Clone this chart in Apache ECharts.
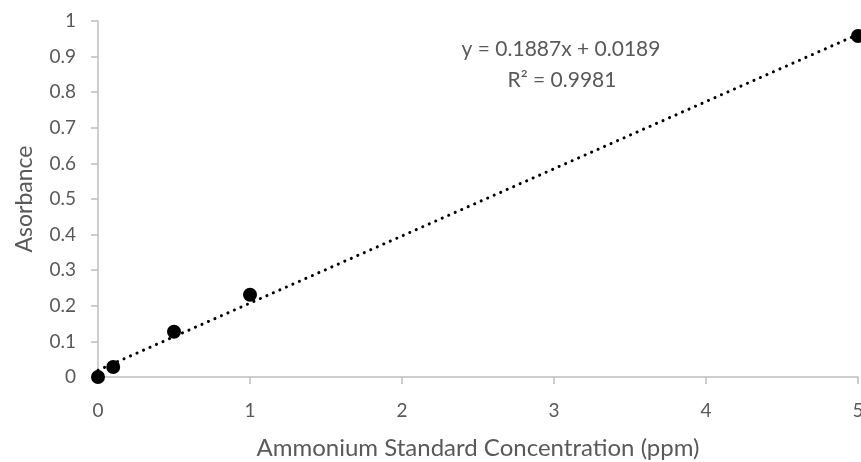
<!DOCTYPE html>
<html>
<head>
<meta charset="utf-8">
<script src="https://cdn.jsdelivr.net/npm/echarts@6/dist/echarts.min.js"></script>
<style>
  html, body { margin: 0; padding: 0; background: #fff; }
  #chart { width: 861px; height: 462px; }
</style>
</head>
<body>
<div id="chart"></div>
<script>
  // measured standards
  const concentration = [0, 0.1, 0.5, 1, 5];
  const absorbance = [0, 0.028, 0.127, 0.231, 0.958];
  // linear trendline endpoints (y = 0.1887x + 0.0189)
  const trendX = [0, 5];
  const trendY = [0.0189, 0.9624];
  const equationText = 'y = 0.1887x + 0.0189';
  const r2Text = 'R² = 0.9981';

  const textColor = '#595959';
  const axisColor = '#bfbfbf';
  const font = 'Lato, "Open Sans", sans-serif';

  var myChart = echarts.init(document.getElementById('chart'));
  myChart.setOption({
    animation: false,
    grid: { left: 98, right: 3, top: 21, bottom: 85, containLabel: false, outerBoundsMode: 'none' },
    xAxis: {
      type: 'value',
      min: 0, max: 5, interval: 1,
      name: 'Ammonium Standard Concentration (ppm)',
      nameLocation: 'middle',
      nameGap: 59,
      nameTextStyle: { color: textColor, fontSize: 24, fontFamily: font },
      axisLine: { show: true, lineStyle: { color: axisColor, width: 1.5 } },
      axisTick: { show: true, length: 7, lineStyle: { color: axisColor, width: 1.5 } },
      axisLabel: { color: textColor, fontSize: 19, fontFamily: font, margin: 24 },
      splitLine: { show: false }
    },
    yAxis: {
      type: 'value',
      min: 0, max: 1, interval: 0.1,
      name: 'Asorbance',
      nameLocation: 'middle',
      nameGap: 62,
      nameTextStyle: { color: textColor, fontSize: 23, fontFamily: font },
      axisLine: { show: true, lineStyle: { color: axisColor, width: 1.5 } },
      axisTick: { show: true, length: 7, lineStyle: { color: axisColor, width: 1.5 } },
      axisLabel: { color: textColor, fontSize: 19, fontFamily: font, margin: 22 },
      splitLine: { show: false }
    },
    graphic: [
      { type: 'text', style: { text: equationText, x: 561, y: 49, fill: textColor, fontSize: 21, fontFamily: font, textAlign: 'center', textVerticalAlign: 'middle' } },
      { type: 'text', style: { text: r2Text, x: 562, y: 80, fill: textColor, fontSize: 21, fontFamily: font, textAlign: 'center', textVerticalAlign: 'middle' } }
    ],
    series: [
      {
        name: 'Trendline',
        type: 'line',
        data: trendX.map((x, i) => [x, trendY[i]]),
        symbol: 'none',
        lineStyle: { color: '#000', width: 3, type: [0.1, 7], cap: 'round' },
        z: 2
      },
      {
        name: 'Standards',
        type: 'scatter',
        data: concentration.map((x, i) => [x, absorbance[i]]),
        symbolSize: 14,
        itemStyle: { color: '#000', opacity: 1 },
        z: 3
      }
    ]
  });
</script>
</body>
</html>
